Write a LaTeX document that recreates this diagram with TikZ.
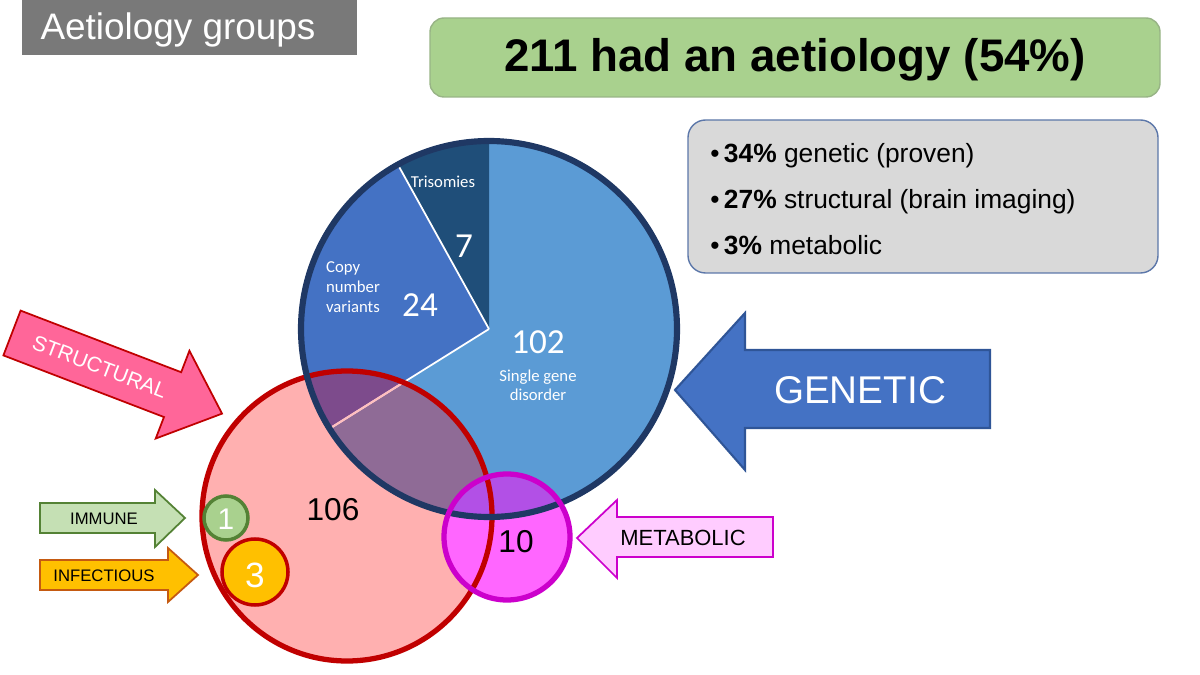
\documentclass[tikz,border=0pt]{standalone}
\usepackage{fontspec}
\setmainfont{Carlito}
\newfontfamily\arl{Liberation Sans}
\definecolor{pblue}{HTML}{5B9BD5}
\definecolor{mblue}{HTML}{4472C4}
\definecolor{dblue}{HTML}{1F4E79}
\definecolor{navy}{HTML}{1F3864}
\definecolor{lpink}{HTML}{FFB0B0}
\definecolor{dred}{HTML}{C00000}
\definecolor{mag}{HTML}{FF66FF}
\definecolor{dmag}{HTML}{CC00CC}
\definecolor{lgreen}{HTML}{A9D18E}
\definecolor{dgreen}{HTML}{548235}
\definecolor{orng}{HTML}{FFC000}
\begin{document}
\begin{tikzpicture}[x=0.02cm,y=-0.02cm,
  txt/.style={inner sep=0pt,align=center},
  wtxt/.style={txt,text=white}]
\useasboundingbox (0,0) rectangle (1200,675);
% title
\fill[gray!95!black] (22,0) rectangle (357,55);
\node[wtxt,font=\arl\fontsize{21}{24}\selectfont] (title) at (178,30) {Aetiology groups};
% green box
\draw[rounded corners=8pt,fill=lgreen,draw=dgreen!60,line width=0.8pt] (430,18) rectangle (1160,97);
\node[txt,font=\arl\fontsize{26}{30}\selectfont\bfseries] (head) at (795,60) {211 had an aetiology (54\%)};
% gray box
\draw[rounded corners=10pt,fill=gray!30,draw=mblue!60!gray,line width=0.8pt] (688,120) rectangle (1158,273);
\node[txt,anchor=west,align=left,font=\arl\fontsize{15}{26}\selectfont] (bul) at (710,199)
 {\textbullet\,\textbf{34\%} genetic (proven)\\ \textbullet\,\textbf{27\%} structural (brain imaging)\\ \textbullet\,\textbf{3\%} metabolic};
% red circle fill
\fill[lpink] (347,516) circle (145);
% pie
\fill[pblue] (489,329) circle (188);
\fill[dblue] (489,329) -- ++(-119:188) arc[start angle=-119,end angle=-90,radius=188] -- cycle;
\fill[mblue] (489,329) -- ++(-212:188) arc[start angle=-212,end angle=-119,radius=188] -- cycle;
% overlaps
\begin{scope}
\clip (347,516) circle (145);
\fill[fill={rgb,255:red,143;green,107;blue,150}] (489,329) circle (188);
\fill[fill={rgb,255:red,125;green,75;blue,140}] (489,329) -- ++(-212:188) arc[start angle=-212,end angle=-119,radius=188] -- cycle;
\end{scope}
\draw[white,line width=1pt] (489,329) -- ++(-119:188);
\draw[white,line width=1pt] (489,329) -- ++(-212:188);
\begin{scope}\clip (347,516) circle (145); \draw[pink,line width=1.2pt] (489,329) -- ++(-212:188);\end{scope}
% magenta circle
\fill[mag] (507,537) circle (63);
\begin{scope}\clip (489,329) circle (188); \fill[fill={rgb,255:red,178;green,80;blue,230}] (507,537) circle (63);\end{scope}
\draw[dred,line width=3pt] (347,516) circle (145);
\draw[navy,line width=3.5pt] (489,329) circle (188);
\draw[dmag,line width=3pt] (507,537) circle (63);
% small circles
\draw[fill=lgreen,draw=dgreen,line width=2pt] (226,518) circle (22);
\node[wtxt,font=\arl\fontsize{17}{20}\selectfont] (one) at (226,519) {1};
\draw[fill=orng,draw=dred,line width=2pt] (255,572) circle (33);
\node[wtxt,font=\arl\fontsize{20}{24}\selectfont] (three) at (255,575) {3};
% labels
\node[txt,font=\arl\fontsize{18}{22}\selectfont] (n106) at (333,510) {106};
\node[txt,font=\arl\fontsize{18}{22}\selectfont] (n10) at (516,542) {10};
\node[wtxt,font=\fontsize{20}{22}\selectfont] (n102) at (538,342) {102};
\node[wtxt,font=\fontsize{9.5}{11}\selectfont] (sgd) at (538,385) {Single gene\\disorder};
\node[wtxt,font=\fontsize{20}{22}\selectfont] (n24) at (420,305) {24};
\node[wtxt,font=\fontsize{9.5}{11.5}\selectfont,align=left] (cnv) at (353,287) {Copy\\number\\variants};
\node[wtxt,font=\fontsize{20}{22}\selectfont] (n7) at (464,246) {7};
\node[wtxt,font=\fontsize{9.5}{11}\selectfont] (tri) at (443,182) {Trisomies};
% STRUCTURAL arrow
\begin{scope}[shift={(12,333)},rotate=-21]
\draw[fill={rgb,255:red,255;green,102;blue,153},draw=dred,line width=1pt]
 (0,-24) -- (172,-24) -- (172,-47) -- (225,0) -- (172,47) -- (172,24) -- (0,24) -- cycle;
\node[wtxt,transform shape,font=\arl\fontsize{12}{14}\selectfont] (struct) at (94,0) {STRUCTURAL};
\end{scope}
% GENETIC arrow
\draw[fill=mblue,draw={rgb,255:red,47;green,85;blue,151},line width=1.2pt]
 (990,350) -- (745,350) -- (745,313) -- (675,390) -- (745,470) -- (745,428) -- (990,428) -- cycle;
\node[wtxt,font=\arl\fontsize{22}{26}\selectfont] (gen) at (860,390) {GENETIC};
% METABOLIC arrow
\draw[fill={rgb,255:red,255;green,204;blue,255},draw=dmag,line width=1pt]
 (773,517) -- (617,517) -- (617,500) -- (577,538) -- (617,578) -- (617,557) -- (773,557) -- cycle;
\node[txt,font=\arl\fontsize{12.5}{15}\selectfont] (met) at (683,538) {METABOLIC};
% IMMUNE arrow
\draw[fill={rgb,255:red,197;green,224;blue,180},draw=dgreen,line width=1pt]
 (40,503) -- (155,503) -- (155,490) -- (185,518) -- (155,547) -- (155,533) -- (40,533) -- cycle;
\node[txt,font=\arl\fontsize{9.5}{12}\selectfont] (imm) at (104,519) {IMMUNE};
% INFECTIOUS arrow
\draw[fill=orng,draw={rgb,255:red,197;green,90;blue,17},line width=1pt]
 (40,560) -- (168,560) -- (168,548) -- (198,575) -- (168,602) -- (168,590) -- (40,590) -- cycle;
\node[txt,font=\arl\fontsize{9.5}{12}\selectfont] (inf) at (104,576) {INFECTIOUS};
\end{tikzpicture}
\end{document}
